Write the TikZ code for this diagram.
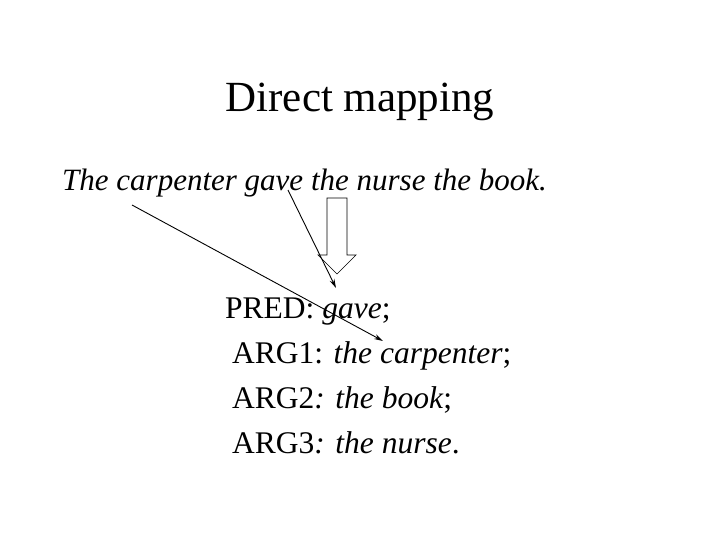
\documentclass[tikz,border=0pt]{standalone}
\usepackage{fontspec}
\usetikzlibrary{arrows.meta}
\setmainfont{Liberation Serif}
\begin{document}
\begin{tikzpicture}[x=1pt,y=-1pt,
  txt/.style={inner sep=0pt,anchor=base west,font=\fontsize{31.5}{36}\selectfont},
  conn/.style={-{Stealth[length=9pt,width=5pt]},line width=0.9pt}]
\useasboundingbox (0,0) rectangle (720,540);
\node[inner sep=0pt,anchor=base,font=\fontsize{43}{48}\selectfont] (title) at (360,112) {Direct mapping};
\node[txt,font=\fontsize{31}{36}\selectfont] (sent) at (62,191) {\itshape The carpenter gave the nurse the book.};
\node[txt] (pred) at (225,318) {PRED: \textit{gave};};
\node[txt] (a1) at (232,363) {ARG1: \textit{the carpenter};};
\node[txt] (a2) at (232,408) {ARG2\textit{: the book};};
\node[txt] (a3) at (232,453) {ARG3\textit{: the nurse}.};
\coordinate (s1) at (132,205);
\coordinate (e1) at (383,341);
\coordinate (s2) at (288,190);
\coordinate (e2) at (336,288);
\draw[conn] (s1) -- (e1);
\draw[conn] (s2) -- (e2);
\draw[line width=0.7pt] (327,198) -- (347,198) -- (347,255) -- (356,255) -- (337,274) -- (318,255) -- (327,255) -- cycle;
\end{tikzpicture}
\end{document}
